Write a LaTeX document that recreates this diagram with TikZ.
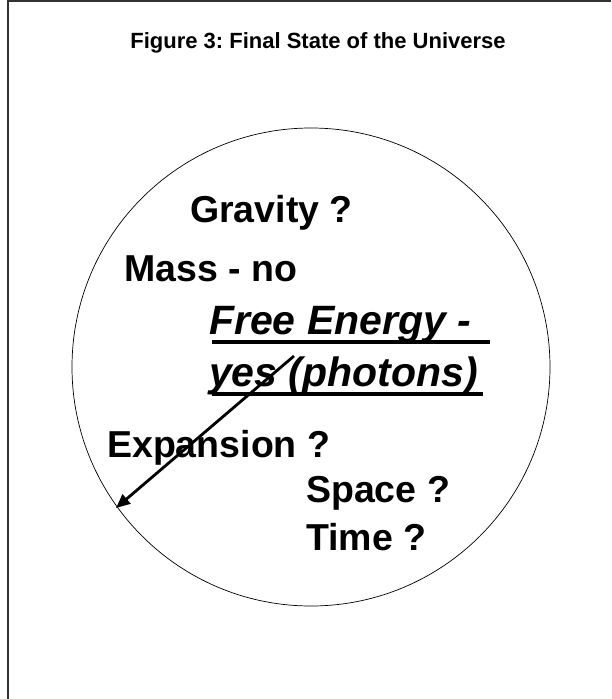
\documentclass[tikz,border=0pt]{standalone}
\usepackage{fontspec}
\setmainfont{Liberation Sans}
\usetikzlibrary{arrows.meta}
\frenchspacing
\begin{document}
\begin{tikzpicture}[x=1pt,y=-1pt,
  lbl/.style={anchor=base west,inner sep=0pt,font=\fontsize{37.5}{40}\selectfont\bfseries},
  ital/.style={anchor=base west,inner sep=0pt,font=\fontsize{41}{44}\selectfont\bfseries\itshape},
  uline/.style={line width=4pt},
  frame/.style={draw=black!80,line width=2pt}]
\useasboundingbox (0,0) rectangle (611,699);
\draw[frame] (8,699) -- (8,0.5) -- (611,0.5);
\node[anchor=base,inner sep=0pt,font=\fontsize{22}{24}\selectfont\bfseries] (title) at (318,48) {Figure 3: Final State of the Universe};
\node[draw,circle,line width=0.7pt,minimum size=478pt,inner sep=0pt] (univ) at (311,367) {};
\node[lbl] (grav) at (190,222) {Gravity ?};
\node[lbl] (mass) at (124,281) {Mass - no};
\node[ital] (free) at (209,334) {Free Energy -};
\node[ital] (yes) at (209,386) {yes (photons)};
\node[lbl] (exp) at (107,457) {Expansion ?};
\node[lbl] (space) at (306,502) {Space ?};
\node[lbl] (time) at (306,550) {Time ?};
\draw[uline] ([xshift=3pt,yshift=-8pt]free.base west) -- ++(278,0);
\draw[uline] ([xshift=3pt,yshift=-8pt]yes.base west) -- ++(271,0);
\coordinate (astart) at (294,356);
\coordinate (aend) at (116,508);
\draw[line width=2.8pt,-{Triangle[length=14pt,width=12pt]}] (astart) -- (aend);
\end{tikzpicture}
\end{document}
